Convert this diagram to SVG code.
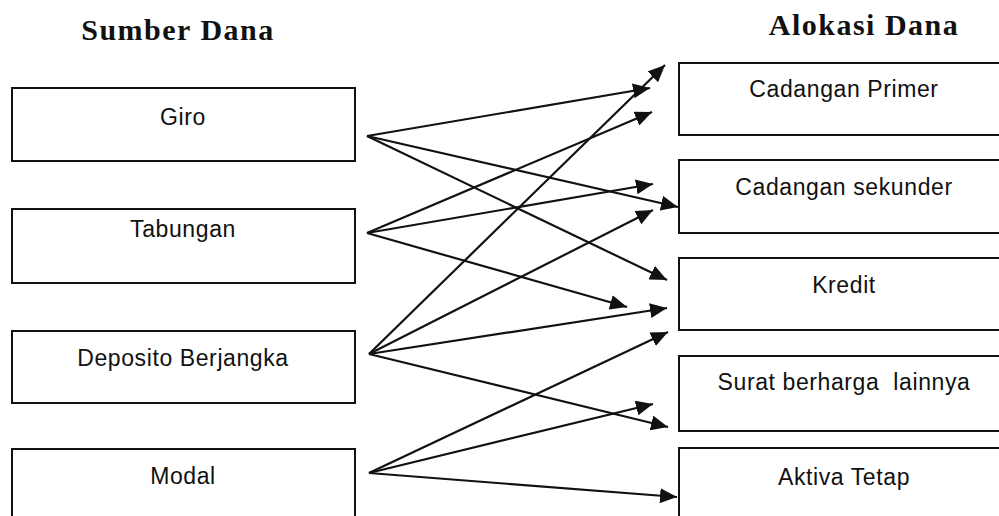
<svg xmlns="http://www.w3.org/2000/svg" width="999" height="516" viewBox="0 0 999 516">
<style>
.box{fill:#fff;stroke:#111;stroke-width:2}
.lbl{font-family:"Liberation Sans",Arial,sans-serif;font-size:23px;letter-spacing:0.6px;fill:#111;text-anchor:middle}
.ttl{font-family:"Liberation Serif","Times New Roman",serif;font-size:30px;font-weight:bold;letter-spacing:1.5px;fill:#111;text-anchor:middle}
.con{fill:none;stroke:#111;stroke-width:2.2;marker-end:url(#ah)}
</style>
<defs>
<marker id="ah" markerUnits="userSpaceOnUse" markerWidth="18" markerHeight="15" refX="17" refY="7.5" orient="auto">
<path d="M0,0 L17,7.5 L0,15 z" fill="#111"/>
</marker>
</defs>
<rect width="999" height="516" fill="#fff"/>
<text class="ttl" x="178" y="40">Sumber Dana</text>
<text class="ttl" x="864" y="35">Alokasi Dana</text>
<g id="giro"><rect class="box" x="12" y="88" width="343" height="73"/><text class="lbl" x="183" y="125">Giro</text></g>
<g id="tabungan"><rect class="box" x="12" y="209" width="343" height="74"/><text class="lbl" x="183" y="237">Tabungan</text></g>
<g id="deposito"><rect class="box" x="12" y="331" width="343" height="72"/><text class="lbl" x="183" y="366">Deposito Berjangka</text></g>
<g id="modal"><rect class="box" x="12" y="449" width="343" height="90"/><text class="lbl" x="183" y="484">Modal</text></g>
<g id="cadangan-primer"><rect class="box" x="679" y="63" width="340" height="72"/><text class="lbl" x="844" y="97">Cadangan Primer</text></g>
<g id="cadangan-sekunder"><rect class="box" x="679" y="160" width="340" height="73"/><text class="lbl" x="844" y="195">Cadangan sekunder</text></g>
<g id="kredit"><rect class="box" x="679" y="258" width="340" height="72"/><text class="lbl" x="844" y="293">Kredit</text></g>
<g id="surat"><rect class="box" x="679" y="356" width="340" height="75"/><text class="lbl" x="844" y="390" style="white-space:pre">Surat berharga  lainnya</text></g>
<g id="aktiva"><rect class="box" x="679" y="448" width="340" height="90"/><text class="lbl" x="844" y="485">Aktiva Tetap</text></g>
<g id="connectors">
<line class="con" x1="367" y1="136" x2="650" y2="88"/>
<line class="con" x1="367" y1="136" x2="678" y2="207"/>
<line class="con" x1="367" y1="136" x2="667" y2="280"/>
<line class="con" x1="367" y1="233" x2="652" y2="112"/>
<line class="con" x1="367" y1="233" x2="653" y2="184"/>
<line class="con" x1="367" y1="233" x2="627" y2="307"/>
<line class="con" x1="369" y1="354" x2="665" y2="65"/>
<line class="con" x1="369" y1="354" x2="653" y2="210"/>
<line class="con" x1="369" y1="354" x2="667" y2="308"/>
<line class="con" x1="369" y1="354" x2="668" y2="427"/>
<line class="con" x1="369" y1="473" x2="668" y2="332"/>
<line class="con" x1="369" y1="473" x2="653" y2="404"/>
<line class="con" x1="369" y1="473" x2="677" y2="497"/>
</g>
</svg>
